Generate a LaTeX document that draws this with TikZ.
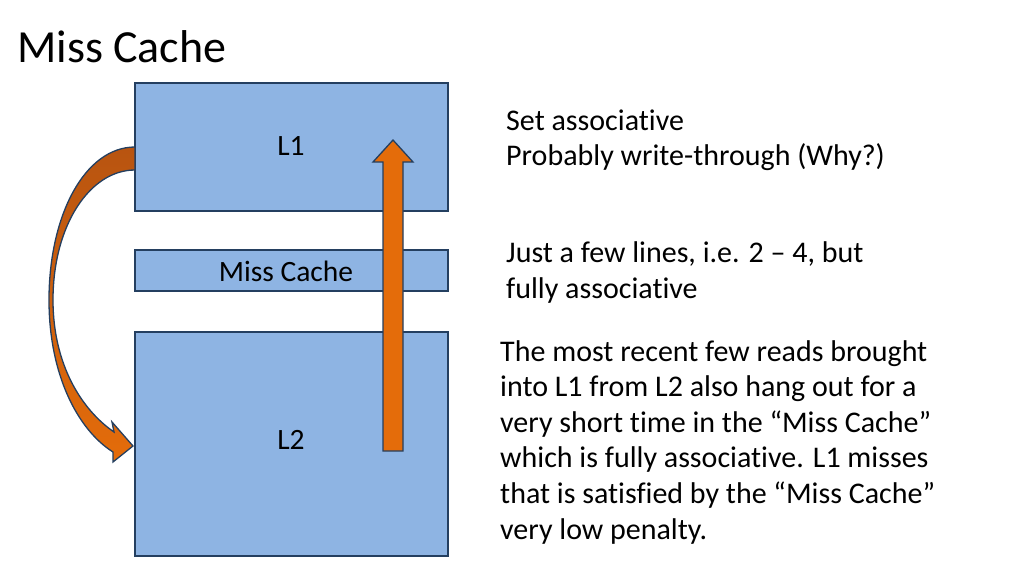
\documentclass[tikz,border=0pt]{standalone}
\usepackage{fontspec}
\setmainfont[Ligatures=NoCommon]{Carlito}
\begin{document}
\begin{tikzpicture}[x=1pt,y=-1pt,
  cache/.style={draw=boxline,line width=1.6pt,fill=boxfill},
  lbl/.style={font=\fontsize{29.5}{34}\selectfont,inner sep=0pt},
  txt/.style={font=\fontsize{30}{36}\selectfont,inner sep=0pt,anchor=base west},
  arr/.style={draw=boxline,line width=1.3pt,line join=miter}]
\definecolor{boxfill}{HTML}{8EB4E3}
\definecolor{boxline}{HTML}{243F60}
\definecolor{orangeA}{HTML}{E46C0A}
\definecolor{orangeB}{HTML}{B85410}
\useasboundingbox (0,0) rectangle (1024,576);
\node[anchor=base west,inner sep=0pt,font=\fontsize{46}{50}\selectfont] (title) at (17,62) {Miss Cache};
% boxes
\draw[cache] (135,83) rectangle (448,211);
\coordinate (l1c) at (291,146);
\draw[cache] (135,250) rectangle (448,291);
\coordinate (mcc) at (286,271);
\draw[cache] (135,332) rectangle (448,556);
\coordinate (l2c) at (291,440);
\node[lbl] (l1) at (l1c) {L1};
\node[lbl] (mc) at (mcc) {Miss Cache};
\node[lbl] (l2) at (l2c) {L2};
% straight arrow
\draw[arr,fill=orangeA] (383,451) -- (383,162) -- (373,162) -- (393,140) -- (413,162) -- (403,162) -- (403,451) -- cycle;
% curved arrow
\shade[top color=orangeB,bottom color=orangeA,draw=boxline,line width=1.3pt]
  (135,147) .. controls (85,147) and (49,215) .. (49,300)
  .. controls (49,375) and (78,430) .. (113,452)
  -- (113,462) -- (133,446) -- (112,422) -- (114,432)
  .. controls (82,410) and (53,365) .. (53,300)
  .. controls (53,225) and (90,170) .. (135,170) -- cycle;
% texts
\node[txt] (t1a) at (506,130) {Set associative};
\node[txt] (t1b) at (506,165.5) {Probably write-through (Why?)};
\node[txt] (t2a) at (506,262) {Just a few lines, i.e. 2 – 4, but};
\node[txt] (t2b) at (506,298) {fully associative};
\node[txt] (t3a) at (500,361) {The most recent few reads brought};
\node[txt] (t3b) at (500,396.6) {into L1 from L2 also hang out for a};
\node[txt] (t3c) at (500,432.2) {very short time in the “Miss Cache”};
\node[txt] (t3d) at (500,467.8) {which is fully associative. L1 misses};
\node[txt] (t3e) at (500,503.4) {that is satisfied by the “Miss Cache”};
\node[txt] (t3f) at (500,539) {very low penalty.};
\end{tikzpicture}
\end{document}
